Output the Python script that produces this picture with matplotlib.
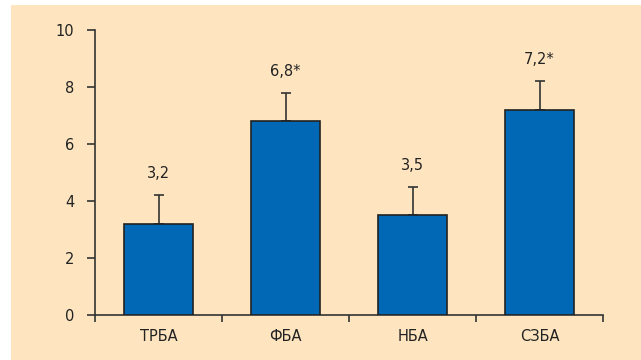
import matplotlib
matplotlib.use("Agg")
import matplotlib.pyplot as plt
from matplotlib.patches import Rectangle
import numpy as np

plt.rcParams['font.family'] = ['Liberation Sans Narrow', 'DejaVu Sans']

categories = ["ТРБА", "ФБА", "НБА", "СЗБА"]
values = [3.2, 6.8, 3.5, 7.2]
errors = [1.0, 1.0, 1.0, 1.0]
labels = ["3,2", "6,8*", "3,5", "7,2*"]
yticks = [0, 2, 4, 6, 8, 10]

bg = "#FEE5C0"
bar_color = "#0068B4"
dark = "#333333"

fig = plt.figure(figsize=(6.41, 3.6), dpi=100, facecolor="white")
# beige panel behind the chart
fig.patches.append(Rectangle((11 / 641, 0), 1 - 11 / 641, 1 - 5 / 360,
                             transform=fig.transFigure, facecolor=bg,
                             edgecolor="none", zorder=-10))

ax = fig.add_axes([95 / 641, 1 - 315 / 360, 508 / 641, 285 / 360])
ax.set_facecolor("none")

x = np.arange(len(categories))
ax.bar(x, values, width=0.54, color=bar_color, edgecolor="#222222",
       linewidth=1.2, zorder=3)
ax.errorbar(x, values, yerr=[[0] * len(errors), errors], fmt="none",
            ecolor=dark, elinewidth=1.2, capsize=3.5, capthick=1.2, zorder=2)

for xi, v, e, lab in zip(x, values, errors, labels):
    ax.annotate(lab, (xi, v + e), xytext=(0, 10), textcoords="offset points",
                ha="center", va="bottom", fontsize=10.5, color="#222222")

ax.set_xlim(-0.5, len(categories) - 0.5)
ax.set_ylim(0, 10)
ax.set_yticks(yticks)
ax.set_yticklabels([str(t) for t in yticks], fontsize=10.5, color="#222222")
ax.set_xticks(x)
ax.set_xticklabels(categories, fontsize=10.5, color="#222222")
ax.set_xticks(np.arange(len(categories) + 1) - 0.5, minor=True)
ax.tick_params(axis="x", which="major", length=0, pad=10)
ax.tick_params(axis="x", which="minor", length=5, width=1.2, color=dark, direction="out")
ax.tick_params(axis="y", length=6, width=1.2, color=dark, pad=9)

for s in ["top", "right"]:
    ax.spines[s].set_visible(False)
for s in ["left", "bottom"]:
    ax.spines[s].set_color(dark)
    ax.spines[s].set_linewidth(1.2)

plt.savefig("out.png", dpi=100, facecolor="white")
